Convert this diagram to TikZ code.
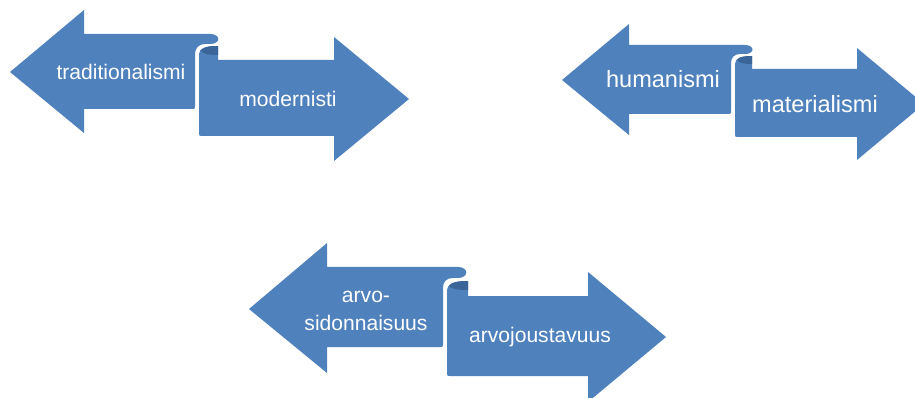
\documentclass[tikz,border=0pt]{standalone}
\usepackage{fontspec}
\setmainfont{Liberation Sans}
\usepackage{tikz}
\definecolor{ribbon}{HTML}{4F81BD}
\definecolor{ribbondark}{HTML}{3A6599}

\begin{document}
\begin{tikzpicture}[x=0.02cm,y=-0.02cm,
    ribbonfill/.style={fill=ribbon},
    rollfill/.style={fill=ribbondark},
    ribbontext/.style={text=white,inner sep=0,align=center,
        font=\fontsize{12}{16}\selectfont},
    bigtext/.style={ribbontext,font=\fontsize{13.4}{17}\selectfont}]
\useasboundingbox (0,0) rectangle (915,398);
\clip (0,0) rectangle (915,398);

% First pair: right arrow
\fill[ribbonfill] (199,133) -- (199,54)
    .. controls (199,48) and (206,46) .. (218,46)
    -- (218,60) -- (334,60) -- (334,37) -- (409,99)
    -- (334,161) -- (334,136) -- (202,136)
    .. controls (199,136) .. (199,133) -- cycle;
\fill[rollfill] (201,51) .. controls (203,47) and (209,46) .. (218,46)
    -- (218,55) .. controls (209,55) and (203,54) .. (201,51) -- cycle;

% First pair: left arrow
\fill[ribbonfill] (10,72) -- (84,10) -- (84,34) -- (210,34)
    .. controls (221,34) and (221,44) .. (210,44)
    -- (205,44) .. controls (199,44) and (195,48) .. (195,54)
    -- (195,106) .. controls (195,109) .. (192,109)
    -- (84,109) -- (84,133) -- cycle;

\node[ribbontext] (left1) at (121,72) {traditionalismi};
\node[ribbontext] (right1) at (288,99) {modernisti};

% Second pair: right arrow
\fill[ribbonfill] (735,134) -- (735,64)
    .. controls (735,58) and (741,56) .. (752,56)
    -- (752,69) -- (857,69) -- (857,48) -- (924,104)
    -- (857,160) -- (857,137) -- (738,137)
    .. controls (735,137) .. (735,134) -- cycle;
\fill[rollfill] (737,60) .. controls (739,57) and (744,56) .. (752,56)
    -- (752,64) .. controls (744,64) and (739,63) .. (737,60) -- cycle;

% Second pair: left arrow
\fill[ribbonfill] (562,80) -- (629,24) -- (629,45) -- (745,45)
    .. controls (755,45) and (755,54) .. (745,54)
    -- (740,54) .. controls (734,54) and (731,58) .. (731,63)
    -- (731,111) .. controls (731,114) .. (728,114)
    -- (629,114) -- (629,135) -- cycle;

\node[bigtext] (left2) at (663,79) {humanismi};
\node[bigtext] (right2) at (815,104) {materialismi};

% Third pair: right arrow
\fill[ribbonfill] (447,373) -- (447,290)
    .. controls (447,284) and (455,281) .. (468,281)
    -- (468,296) -- (588,296) -- (588,272) -- (666,337)
    -- (588,402) -- (588,376) -- (450,376)
    .. controls (447,376) .. (447,373) -- cycle;
\fill[rollfill] (449,286) .. controls (451,282) and (458,281) .. (468,281)
    -- (468,290) .. controls (458,290) and (451,289) .. (449,286) -- cycle;

% Third pair: left arrow
\fill[ribbonfill] (249,309) -- (327,243) -- (327,267) -- (458,267)
    .. controls (469,267) and (469,278) .. (458,278)
    -- (453,278) .. controls (446,278) and (443,282) .. (443,288)
    -- (443,344) .. controls (443,347) .. (440,347)
    -- (327,347) -- (327,373) -- cycle;

\node[ribbontext] (left3) at (366,311) {arvo-\\sidonnaisuus};
\node[ribbontext] (right3) at (540,337) {arvojoustavuus};

\end{tikzpicture}
\end{document}
